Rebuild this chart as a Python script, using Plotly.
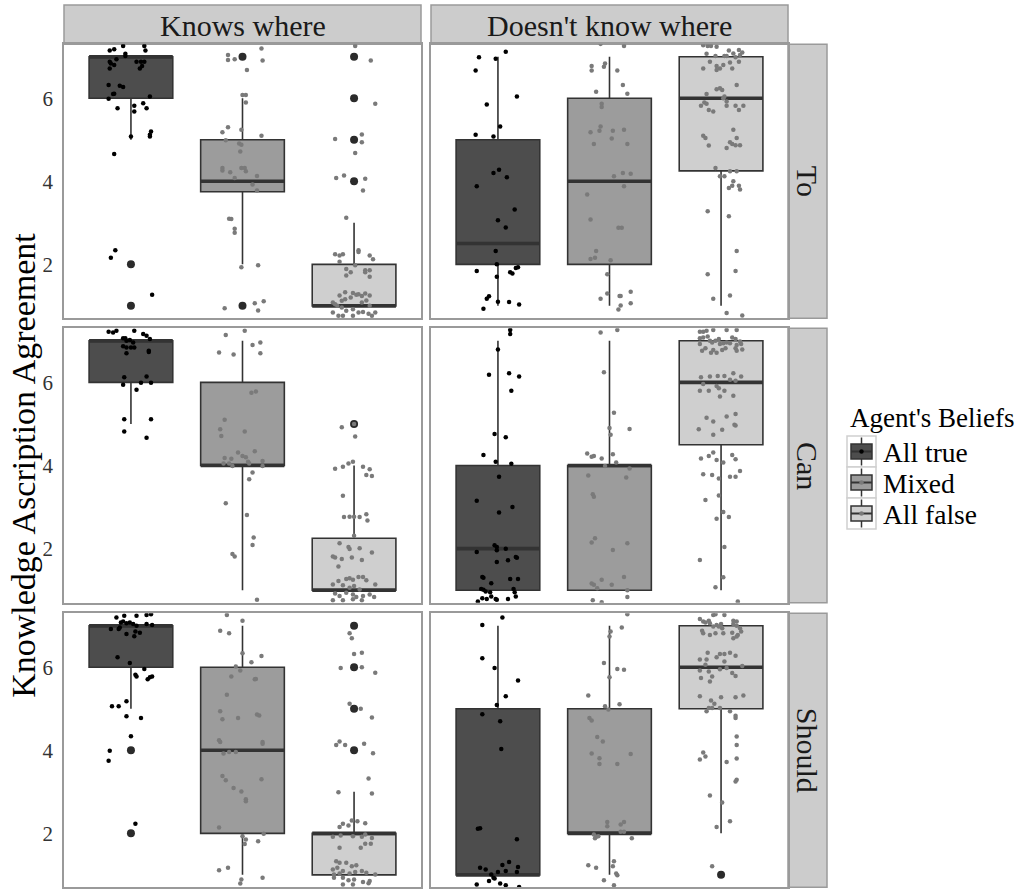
import plotly.graph_objects as go

# ---------------- data ----------------
ROWS = ["To", "Can", "Should"]
COLS = ["Knows where", "Doesn't know where"]
GROUPS = ["All true", "Mixed", "All false"]
LEGEND_TITLE = "Agent's Beliefs"
Y_TITLE = "Knowledge Ascription Agreement"
POSITIONS = [1, 2, 3]
Y_TICKS = [2, 4, 6]

# box statistics, panel order: To/Knows, To/Doesn't, Can/Knows, Can/Doesn't, Should/Knows, Should/Doesn't
LOWER = [[5, 2, 1], [1, 1, 1], [5, 1, 1], [1, 1, 1], [5, 1, 1], [1, 1, 2]]
Q1 = [[6, 3.75, 1], [2, 2, 4.25], [6, 4, 1], [1, 1, 4.5], [6, 2, 1], [1, 2, 5]]
MEDIAN = [[7, 4, 1], [2.5, 4, 6], [7, 4, 1], [2, 4, 6], [7, 4, 2], [1, 2, 6]]
Q3 = [[7, 5, 2], [5, 6, 7], [7, 6, 2.25], [4, 4, 7], [7, 6, 2], [5, 5, 7]]
UPPER = [[7, 6, 3], [7, 7, 7], [7, 7, 4], [7, 7, 7], [7, 7, 3], [7, 7, 7]]
OUTLIERS = [[[2, 1], [7, 1], [4, 5, 6, 7]], [[], [], []], [[], [], [5]],
            [[], [], []], [[4, 2], [], [4, 5, 6, 7]], [[], [], [1]]]

# jittered responses: (x offset from group position, jittered value)
TO_KNOWS_TRUE = [(-0.19, 7.15), (-0.15, 7.18), (-0.07, 7.26), (0.12, 7.26), (0.13, 7.15), (-0.05, 7.07), (-0.05, 7.02),
                 (-0.19, 6.88), (-0.13, 6.94), (-0.18, 6.84), (-0.15, 6.80), (0.05, 6.88), (0.09, 6.88), (0.12, 6.88),
                 (0.10, 6.78), (0.08, 6.72), (-0.19, 6.72), (-0.20, 6.32), (-0.10, 6.30), (-0.07, 6.27), (-0.15, 6.11),
                 (-0.20, 5.99), (-0.16, 6.10), (0.17, 6.04), (-0.12, 5.76), (0.03, 5.82), (0.03, 5.68), (0.11, 5.88),
                 (0.14, 5.76), (0.00, 5.08), (0.17, 5.08), (0.18, 5.20), (0.17, 5.12), (-0.15, 4.66), (-0.14, 2.34),
                 (-0.18, 2.16), (0.19, 1.27)]
TO_KNOWS_MIXED = [(-0.13, 7.04), (-0.13, 6.92), (-0.07, 6.94), (0.17, 7.20), (0.18, 6.91), (0.04, 6.68), (0.00, 6.08),
                  (0.03, 6.08), (0.03, 5.90), (-0.18, 5.18), (-0.13, 5.30), (-0.01, 5.24), (0.17, 5.10), (-0.15, 4.99),
                  (-0.03, 4.91), (-0.01, 4.88), (-0.02, 4.72), (-0.18, 4.32), (-0.18, 4.26), (-0.11, 4.22), (-0.01, 4.32),
                  (0.02, 4.32), (0.03, 4.24), (0.13, 4.13), (-0.07, 4.08), (0.09, 3.92), (0.13, 3.78), (-0.12, 3.10),
                  (-0.10, 3.09), (-0.07, 2.86), (-0.07, 2.76), (-0.01, 1.93), (0.14, 1.98), (-0.16, 0.94), (0.11, 1.06),
                  (0.19, 1.11), (0.14, 0.89)]
TO_KNOWS_FALSE = [(0.01, 7.26), (0.15, 6.91), (0.19, 5.87), (-0.17, 5.02), (0.07, 5.13), (0.07, 4.94), (0.01, 4.68),
                  (-0.16, 4.08), (-0.09, 4.14), (0.10, 4.06), (0.08, 3.78), (-0.07, 3.12), (0.04, 2.34), (0.04, 2.30),
                  (-0.17, 2.24), (-0.13, 2.21), (-0.10, 2.24), (0.14, 2.21), (0.17, 2.12), (-0.13, 2.06), (0.01, 1.98),
                  (-0.07, 1.89), (-0.03, 1.81), (0.10, 1.86), (0.14, 1.86), (0.10, 1.81), (0.14, 1.70), (-0.07, 1.73),
                  (-0.01, 1.31), (0.02, 1.27), (-0.13, 1.25), (-0.08, 1.33), (-0.19, 1.08), (-0.17, 1.04), (-0.15, 1.00),
                  (-0.11, 1.12), (-0.08, 1.16), (-0.03, 1.20), (0.04, 1.28), (0.07, 1.24), (0.10, 1.30), (0.14, 1.25),
                  (-0.11, 0.96), (-0.07, 0.88), (-0.01, 0.92), (0.07, 1.08), (0.11, 1.13), (0.14, 1.00), (-0.19, 0.84),
                  (-0.14, 0.76), (-0.10, 0.76), (-0.01, 0.76), (0.04, 0.84), (0.08, 0.85), (0.13, 0.81), (0.19, 0.84),
                  (0.16, 0.76)]
TO_DOESNT_TRUE = [(-0.17, 6.99), (-0.02, 6.95), (0.07, 7.12), (-0.20, 6.67), (0.17, 6.04), (-0.10, 5.85), (0.02, 5.32),
                  (-0.20, 5.12), (-0.04, 5.08), (-0.04, 4.20), (0.01, 4.28), (0.08, 4.10), (-0.19, 3.88), (0.15, 3.32),
                  (0.00, 3.06), (0.07, 2.89), (-0.02, 2.32), (-0.01, 2.00), (-0.19, 1.84), (0.11, 1.81), (0.13, 1.78),
                  (0.16, 1.91), (0.18, 1.93), (-0.01, 1.70), (-0.08, 1.23), (-0.10, 1.17), (0.00, 1.10), (0.10, 1.09),
                  (0.19, 1.03), (-0.13, 0.93)]
TO_DOESNT_MIXED = [(-0.08, 7.31), (0.13, 7.26), (-0.16, 6.78), (-0.16, 6.67), (-0.05, 6.76), (-0.04, 6.84), (0.07, 6.67),
                   (0.12, 6.32), (0.16, 6.11), (-0.12, 6.16), (-0.07, 5.87), (-0.07, 5.79), (-0.08, 5.32), (-0.17, 5.18),
                   (-0.09, 5.22), (0.03, 5.22), (0.13, 5.24), (0.02, 5.03), (-0.14, 4.90), (0.16, 4.90), (0.04, 4.12),
                   (0.12, 4.20), (0.19, 4.18), (0.13, 3.88), (-0.20, 3.68), (-0.17, 3.08), (0.08, 2.88), (0.11, 2.88),
                   (-0.12, 2.32), (-0.17, 2.13), (-0.13, 2.16), (0.01, 2.10), (-0.02, 1.76), (-0.02, 1.30), (0.09, 1.24),
                   (0.10, 1.24), (0.19, 1.34), (-0.08, 1.17), (0.10, 1.01), (0.08, 0.91), (0.19, 1.06)]
TO_DOESNT_FALSE = [(-0.16, 7.28), (-0.12, 7.26), (-0.09, 7.26), (-0.04, 7.24), (-0.13, 7.07), (-0.05, 7.02), (0.03, 7.02),
                   (0.11, 7.08), (0.16, 7.16), (0.19, 7.10), (0.07, 7.15), (0.13, 6.99), (0.16, 6.88), (-0.10, 6.88),
                   (-0.04, 6.78), (-0.01, 6.72), (0.02, 6.80), (0.10, 6.72), (0.08, 6.86), (-0.16, 6.72), (-0.04, 6.68),
                   (0.05, 7.02), (0.17, 7.04), (-0.04, 6.22), (-0.01, 6.24), (0.01, 6.20), (0.14, 6.32), (-0.13, 6.10),
                   (0.03, 6.04), (0.02, 6.00), (0.05, 5.92), (-0.15, 5.90), (-0.18, 5.82), (-0.13, 5.87), (-0.11, 5.72),
                   (-0.07, 5.68), (0.05, 5.82), (0.13, 5.82), (0.20, 5.82), (0.16, 5.72), (0.11, 5.24), (-0.16, 5.10),
                   (-0.14, 5.04), (-0.11, 4.86), (0.14, 5.04), (0.08, 4.94), (0.10, 4.90), (0.13, 4.87), (0.17, 4.87),
                   (0.05, 4.80), (-0.05, 4.32), (-0.01, 4.12), (0.03, 4.12), (0.08, 4.24), (0.14, 4.24), (0.07, 3.84),
                   (0.10, 3.89), (0.16, 3.89), (0.17, 3.80), (0.11, 4.00), (-0.12, 3.28), (0.07, 3.16), (0.14, 2.32),
                   (-0.12, 1.76), (0.13, 1.84), (-0.07, 1.17), (0.08, 1.25), (0.05, 0.83), (0.19, 0.77)]
CAN_KNOWS_TRUE = [(-0.20, 7.22), (-0.16, 7.20), (-0.13, 7.24), (0.03, 7.24), (0.11, 7.16), (0.14, 7.12), (0.17, 7.04),
                  (-0.07, 7.06), (-0.05, 7.06), (-0.04, 7.00), (-0.01, 7.02), (0.02, 6.96), (0.03, 6.84), (-0.07, 6.87),
                  (-0.04, 6.84), (0.00, 6.84), (-0.04, 6.70), (0.16, 6.76), (0.16, 6.73), (-0.06, 6.12), (-0.07, 5.94),
                  (0.14, 6.14), (0.09, 5.99), (0.18, 5.99), (0.05, 5.82), (-0.06, 5.11), (0.18, 5.11), (-0.06, 4.82),
                  (0.14, 4.67)]
CAN_KNOWS_MIXED = [(-0.15, 7.14), (0.02, 7.24), (0.09, 6.90), (0.16, 6.96), (0.16, 6.70), (-0.21, 6.72), (-0.08, 6.67),
                   (0.08, 5.75), (0.12, 5.78), (-0.16, 5.10), (-0.20, 4.87), (-0.19, 4.71), (0.02, 4.82), (-0.04, 4.31),
                   (0.00, 4.23), (0.03, 4.20), (0.11, 4.34), (-0.16, 4.18), (-0.10, 4.16), (-0.17, 4.05), (-0.12, 4.05),
                   (-0.09, 3.99), (0.05, 4.09), (0.06, 4.05), (0.18, 4.11), (0.18, 3.99), (0.09, 3.83), (0.06, 3.67),
                   (-0.15, 3.09), (0.04, 2.81), (-0.09, 1.87), (-0.07, 1.81), (0.10, 2.27), (0.09, 2.09), (0.13, 0.77)]
CAN_KNOWS_FALSE = [(-0.11, 4.92), (0.00, 5.00), (0.01, 4.70), (-0.17, 3.92), (-0.10, 3.97), (-0.05, 4.05), (-0.01, 4.09),
                   (0.08, 3.97), (0.14, 3.91), (0.16, 3.75), (0.11, 3.77), (-0.10, 3.27), (-0.09, 2.76), (-0.04, 2.77),
                   (0.00, 2.77), (0.05, 2.76), (0.11, 2.83), (0.12, 2.68), (0.00, 2.31), (-0.13, 2.13), (-0.05, 2.04),
                   (-0.04, 1.99), (0.05, 2.01), (0.16, 1.91), (-0.19, 1.81), (-0.17, 1.79), (-0.11, 1.75), (-0.02, 1.79),
                   (0.07, 1.73), (-0.14, 1.57), (-0.07, 1.27), (-0.04, 1.29), (-0.01, 1.25), (0.04, 1.32), (0.08, 1.32),
                   (-0.19, 1.14), (-0.14, 1.22), (-0.10, 1.12), (-0.04, 1.06), (0.00, 1.10), (0.05, 1.02), (0.11, 1.24),
                   (0.19, 1.14), (-0.17, 0.92), (-0.13, 0.86), (-0.07, 0.94), (-0.01, 0.90), (0.02, 0.84), (0.08, 0.86),
                   (0.14, 0.90), (0.18, 0.84), (-0.19, 0.76), (-0.10, 0.76), (-0.01, 0.78), (0.07, 0.76)]
CAN_DOESNT_TRUE = [(0.11, 7.26), (0.11, 7.16), (0.00, 6.79), (-0.08, 6.18), (0.10, 6.22), (0.19, 6.14), (0.12, 5.80),
                   (-0.03, 4.76), (0.07, 4.68), (-0.13, 4.25), (-0.02, 4.09), (0.12, 4.04), (0.01, 3.73), (-0.19, 3.15),
                   (0.13, 3.00), (0.01, 2.87), (-0.03, 2.08), (-0.01, 2.04), (-0.01, 1.96), (0.07, 2.00), (-0.19, 1.92),
                   (-0.01, 1.68), (0.09, 1.72), (0.16, 1.80), (0.17, 1.78), (-0.14, 1.32), (-0.13, 1.30), (0.11, 1.27),
                   (0.18, 1.27), (-0.06, 1.17), (-0.15, 1.03), (-0.13, 1.01), (-0.11, 0.97), (0.14, 1.03), (0.15, 0.95),
                   (0.16, 0.85), (-0.07, 0.95), (-0.14, 0.81), (-0.10, 0.79), (-0.06, 0.85), (-0.02, 0.79), (-0.01, 0.77),
                   (-0.18, 0.73), (0.09, 0.79)]
CAN_DOESNT_MIXED = [(-0.08, 7.20), (0.07, 7.26), (-0.05, 6.24), (0.04, 5.27), (0.00, 4.90), (0.01, 4.74), (0.18, 4.88),
                    (-0.20, 4.29), (-0.16, 4.21), (-0.14, 4.23), (-0.07, 4.17), (0.03, 4.27), (0.06, 4.07), (-0.04, 3.99),
                    (-0.19, 3.76), (0.15, 3.71), (0.18, 3.93), (-0.15, 3.31), (-0.14, 3.25), (-0.13, 2.25), (-0.16, 2.15),
                    (0.03, 1.97), (0.16, 2.13), (0.13, 1.32), (-0.07, 1.25), (-0.16, 1.16), (-0.14, 1.13), (0.02, 1.13),
                    (-0.11, 1.05), (0.16, 1.00), (0.16, 0.84), (-0.15, 0.76), (-0.07, 0.71)]
CAN_DOESNT_FALSE = [(-0.19, 7.22), (-0.16, 7.22), (-0.13, 7.24), (-0.07, 7.26), (0.05, 7.26), (0.14, 7.26), (-0.19, 7.06),
                    (-0.16, 7.08), (-0.12, 7.10), (-0.10, 7.00), (-0.08, 6.96), (-0.05, 7.00), (-0.02, 7.04), (-0.01, 6.92),
                    (0.02, 6.94), (0.05, 6.96), (0.10, 7.08), (0.13, 7.04), (0.17, 6.98), (0.18, 6.92), (-0.19, 6.92),
                    (-0.14, 6.82), (-0.09, 6.71), (-0.04, 6.71), (0.01, 6.78), (0.04, 6.82), (0.13, 6.82), (0.14, 6.76),
                    (0.19, 6.79), (-0.17, 6.76), (-0.07, 6.78), (0.08, 6.94), (0.14, 6.90), (-0.18, 6.12), (-0.10, 6.14),
                    (-0.03, 6.15), (0.03, 6.15), (0.11, 6.22), (0.18, 6.14), (0.08, 6.06), (0.13, 6.04), (-0.16, 5.96),
                    (-0.19, 5.80), (-0.11, 5.80), (-0.04, 5.91), (-0.02, 5.86), (0.03, 5.80), (-0.01, 5.66), (0.11, 5.68),
                    (-0.13, 5.15), (-0.07, 5.06), (0.05, 5.18), (0.13, 5.24), (0.12, 4.98), (0.13, 4.96), (-0.20, 4.87),
                    (-0.07, 4.74), (0.01, 4.86), (-0.18, 4.17), (-0.11, 4.23), (-0.07, 4.31), (-0.04, 4.13), (0.02, 4.07),
                    (0.10, 4.25), (0.13, 4.15), (0.17, 3.87), (-0.16, 3.79), (-0.08, 3.77), (-0.02, 3.69), (0.08, 3.73),
                    (0.13, 3.73), (-0.14, 3.17), (-0.02, 3.28), (-0.04, 2.72), (0.02, 2.88), (0.07, 2.76), (0.03, 2.04),
                    (-0.19, 1.73), (0.02, 1.31), (-0.05, 1.07), (0.15, 0.73)]
SHOULD_KNOWS_TRUE = [(-0.13, 7.20), (-0.06, 7.24), (0.05, 7.24), (0.14, 7.26), (0.18, 7.28), (-0.18, 6.92), (-0.11, 6.92),
                     (-0.09, 7.08), (-0.07, 7.10), (-0.04, 7.06), (-0.01, 7.08), (0.02, 7.04), (0.05, 7.00), (0.14, 7.04),
                     (0.19, 7.02), (-0.10, 6.96), (-0.04, 6.80), (0.03, 6.75), (0.04, 6.86), (0.08, 6.83), (-0.12, 6.24),
                     (-0.01, 6.10), (0.12, 5.96), (0.04, 5.82), (0.05, 5.78), (0.15, 5.71), (0.17, 5.76), (0.19, 5.78),
                     (-0.17, 5.06), (-0.11, 5.06), (-0.04, 5.18), (-0.04, 4.82), (0.09, 4.78), (0.00, 4.34), (-0.19, 3.99),
                     (-0.20, 3.75), (0.04, 2.23)]
SHOULD_KNOWS_MIXED = [(-0.14, 7.26), (0.00, 7.12), (-0.20, 6.88), (-0.12, 6.82), (0.00, 6.34), (0.08, 6.12), (0.17, 6.27),
                      (-0.06, 6.02), (-0.02, 5.92), (-0.10, 5.78), (0.11, 5.71), (0.12, 5.72), (-0.14, 5.34), (-0.20, 4.94),
                      (-0.18, 4.75), (-0.04, 4.78), (0.13, 4.86), (0.15, 4.84), (-0.21, 4.24), (-0.20, 4.20), (0.18, 4.20),
                      (0.18, 4.16), (-0.17, 3.92), (-0.12, 3.96), (-0.06, 3.96), (-0.18, 3.38), (-0.15, 3.28), (0.17, 3.30),
                      (-0.08, 3.09), (-0.01, 3.01), (0.03, 2.82), (0.03, 2.77), (-0.21, 2.14), (0.00, 1.93), (0.02, 1.74),
                      (0.03, 1.85), (0.19, 1.99), (0.14, 1.81), (-0.21, 1.11), (-0.13, 1.17), (-0.01, 0.89), (-0.02, 0.79),
                      (0.18, 0.93)]
SHOULD_KNOWS_FALSE = [(-0.04, 6.82), (-0.02, 6.70), (0.00, 6.32), (0.07, 6.35), (-0.12, 5.98), (0.07, 6.00), (0.19, 5.87),
                      (-0.04, 5.12), (0.06, 5.00), (0.16, 4.79), (-0.16, 4.13), (-0.13, 4.21), (-0.08, 4.13), (0.09, 4.16),
                      (0.17, 3.93), (0.13, 3.32), (-0.14, 2.99), (0.16, 2.96), (-0.02, 2.31), (0.03, 2.29), (0.10, 2.24),
                      (-0.10, 2.23), (-0.13, 2.15), (-0.05, 2.19), (-0.19, 1.92), (-0.12, 1.95), (-0.01, 1.93), (0.07, 1.92),
                      (0.10, 1.97), (0.16, 1.89), (-0.13, 1.65), (0.06, 1.65), (0.10, 1.75), (0.15, 1.75), (-0.16, 1.33),
                      (-0.13, 1.29), (-0.07, 1.29), (-0.02, 1.21), (0.02, 1.23), (-0.19, 1.13), (-0.15, 1.17), (-0.10, 1.09),
                      (-0.18, 1.01), (-0.13, 1.03), (-0.04, 1.03), (0.01, 1.07), (0.07, 1.09), (0.11, 1.05), (0.19, 1.01),
                      (-0.18, 0.93), (-0.10, 0.93), (-0.05, 0.87), (0.00, 0.89), (0.08, 0.83), (0.13, 0.80), (0.14, 0.85),
                      (-0.01, 0.77), (-0.10, 0.77)]
SHOULD_DOESNT_TRUE = [(0.04, 7.20), (-0.14, 7.02), (-0.14, 6.22), (-0.03, 5.98), (0.18, 5.68), (0.07, 5.30), (-0.01, 5.09),
                      (-0.14, 4.87), (0.02, 4.70), (0.03, 4.03), (-0.18, 2.11), (-0.16, 2.12), (0.17, 1.86), (-0.16, 1.17),
                      (-0.11, 1.13), (-0.06, 1.01), (-0.04, 0.93), (0.00, 1.07), (0.04, 1.24), (0.07, 1.09), (0.10, 1.31),
                      (0.17, 1.07), (0.18, 1.19), (-0.08, 0.85), (-0.03, 0.91), (0.02, 0.79), (-0.19, 0.77), (0.07, 0.75),
                      (0.19, 0.71)]
SHOULD_DOESNT_MIXED = [(0.16, 7.28), (0.11, 6.96), (0.01, 6.86), (0.00, 6.74), (-0.05, 6.10), (0.00, 5.76), (0.07, 5.96),
                       (0.13, 5.94), (-0.19, 5.32), (0.09, 5.11), (-0.04, 5.06), (-0.01, 4.98), (-0.18, 4.78), (-0.16, 4.72),
                       (-0.11, 4.32), (-0.06, 4.21), (-0.16, 3.92), (-0.09, 3.81), (-0.09, 3.67), (0.07, 3.67), (0.19, 3.91),
                       (-0.02, 2.27), (-0.02, 2.17), (0.10, 2.21), (0.13, 2.27), (0.10, 2.04), (0.13, 2.04), (-0.14, 1.97),
                       (-0.12, 1.92), (-0.10, 1.93), (-0.13, 1.88), (0.20, 1.88), (-0.19, 1.23), (-0.12, 1.17), (0.04, 1.33),
                       (0.03, 1.21), (0.06, 1.03), (0.07, 0.99), (-0.05, 0.87), (0.04, 0.75)]
SHOULD_DOESNT_FALSE = [(-0.19, 7.16), (-0.16, 7.10), (-0.14, 7.08), (-0.11, 7.12), (-0.07, 7.26), (-0.05, 7.28), (0.03, 7.26),
                       (-0.10, 7.06), (-0.04, 7.02), (0.00, 7.04), (-0.07, 6.98), (-0.02, 6.98), (0.01, 6.94), (0.11, 7.12),
                       (0.14, 7.10), (0.11, 7.04), (0.14, 7.00), (0.17, 6.94), (0.18, 6.86), (-0.17, 6.88), (-0.16, 6.82),
                       (-0.10, 6.78), (-0.05, 6.82), (0.02, 6.82), (0.10, 6.83), (0.15, 6.78), (0.14, 6.74), (0.11, 6.70),
                       (-0.19, 6.19), (-0.13, 6.19), (-0.12, 6.35), (-0.04, 6.24), (-0.01, 6.32), (0.03, 6.32), (0.08, 6.35),
                       (0.13, 6.28), (0.03, 6.14), (-0.14, 6.06), (-0.01, 5.95), (0.05, 5.98), (0.10, 5.86), (0.13, 5.79),
                       (0.19, 6.03), (-0.19, 5.92), (-0.11, 5.90), (-0.18, 5.74), (-0.08, 5.78), (-0.10, 5.66), (-0.19, 5.30),
                       (-0.09, 5.20), (-0.06, 5.12), (-0.11, 5.02), (-0.08, 5.02), (-0.01, 5.02), (0.00, 5.28), (0.13, 5.28),
                       (0.20, 5.32), (-0.13, 4.94), (0.08, 4.94), (0.13, 4.78), (0.13, 4.83), (0.14, 4.33), (0.14, 4.13),
                       (0.14, 3.80), (-0.16, 3.95), (-0.14, 3.85), (-0.19, 3.78), (0.05, 3.72), (0.14, 3.29), (0.13, 3.25),
                       (-0.10, 2.91), (0.01, 2.74), (0.08, 2.29), (-0.04, 2.15), (-0.08, 1.21)]

JITTER = [
    [TO_KNOWS_TRUE, TO_KNOWS_MIXED, TO_KNOWS_FALSE],
    [TO_DOESNT_TRUE, TO_DOESNT_MIXED, TO_DOESNT_FALSE],
    [CAN_KNOWS_TRUE, CAN_KNOWS_MIXED, CAN_KNOWS_FALSE],
    [CAN_DOESNT_TRUE, CAN_DOESNT_MIXED, CAN_DOESNT_FALSE],
    [SHOULD_KNOWS_TRUE, SHOULD_KNOWS_MIXED, SHOULD_KNOWS_FALSE],
    [SHOULD_DOESNT_TRUE, SHOULD_DOESNT_MIXED, SHOULD_DOESNT_FALSE],
]

# ---------------- style ----------------
W, H = 1035, 889
FONT = "Liberation Serif, Times New Roman, serif"
FILLS = ["#4d4d4d", "#9c9c9c", "#cfcfcf"]
POINT_COLORS = ["#000000", "#7a7a7a", "#7a7a7a"]
BOX_LINE = "#333333"
BORDER = "#9a9a9a"
STRIP_FILL = "#cccccc"
BOX_WIDTH = 0.75

COL_PX = [(64, 421), (431, 788)]
ROW_PX = [(44.3, 318.3), (328.3, 602.7), (613.3, 887.3)]
STRIP_TOP = 5
STRIP_RIGHT = (788, 827)
Y_TITLE_X = 24

# legend placement (pixels)
LEG_KEY_X = (847, 876)
LEG_KEY_TOP = 436
LEG_KEY_H = 31
LEG_TEXT_X = 881
LEG_TITLE_X = 848
LEG_TITLE_Y = 418


def px_x(v):
    return v / W


def px_y(v):
    return 1 - v / H


fig = go.Figure()
layout_axes = {}

for r in range(3):
    for c in range(2):
        k = r * 2 + c
        n = k + 1
        xa = "x" if n == 1 else f"x{n}"
        ya = "y" if n == 1 else f"y{n}"
        xkey = "xaxis" if n == 1 else f"xaxis{n}"
        ykey = "yaxis" if n == 1 else f"yaxis{n}"
        layout_axes[xkey] = dict(
            domain=[px_x(COL_PX[c][0]), px_x(COL_PX[c][1])], anchor=ya,
            range=[0.4, 3.6], showgrid=False, zeroline=False, showticklabels=False, ticks="",
            showline=True, mirror=True, linecolor=BORDER, linewidth=1.5, fixedrange=True,
        )
        layout_axes[ykey] = dict(
            domain=[px_y(ROW_PX[r][1]), px_y(ROW_PX[r][0])], anchor=xa,
            range=[0.7, 7.3], showgrid=False, zeroline=False, tickvals=Y_TICKS,
            showticklabels=(c == 0), ticks="", ticklabelstandoff=5,
            tickfont=dict(family=FONT, size=21, color="#333333"),
            showline=True, mirror=True, linecolor=BORDER, linewidth=1.5, fixedrange=True,
        )
        for g in range(3):
            pos = POSITIONS[g]
            fig.add_trace(go.Box(
                x=[pos], q1=[Q1[k][g]], median=[MEDIAN[k][g]], q3=[Q3[k][g]],
                lowerfence=[LOWER[k][g]], upperfence=[UPPER[k][g]],
                width=BOX_WIDTH, whiskerwidth=0, boxpoints=False,
                fillcolor=FILLS[g], line=dict(color=BOX_LINE, width=1.6),
                name=GROUPS[g], legendgroup=GROUPS[g], showlegend=False,
                xaxis=xa, yaxis=ya, hoverinfo="skip",
            ))
            # thicker median bar, as in the original
            fig.add_trace(go.Scatter(
                x=[pos - BOX_WIDTH / 2, pos + BOX_WIDTH / 2], y=[MEDIAN[k][g], MEDIAN[k][g]],
                mode="lines", line=dict(color=BOX_LINE, width=3.6),
                showlegend=False, legendgroup=GROUPS[g], xaxis=xa, yaxis=ya, hoverinfo="skip",
            ))
            outs = OUTLIERS[k][g]
            if outs:
                fig.add_trace(go.Scatter(
                    x=[pos] * len(outs), y=outs, mode="markers",
                    marker=dict(color="#2b2b2b", size=8),
                    showlegend=False, legendgroup=GROUPS[g], xaxis=xa, yaxis=ya,
                ))
            pts = JITTER[k][g]
            fig.add_trace(go.Scatter(
                x=[pos + d for d, _ in pts], y=[v for _, v in pts], mode="markers",
                marker=dict(color=POINT_COLORS[g], size=4.5),
                showlegend=False, legendgroup=GROUPS[g], xaxis=xa, yaxis=ya,
            ))

shapes = []
annotations = []
# column strips
for c, label in enumerate(COLS):
    x0, x1 = COL_PX[c]
    shapes.append(dict(type="rect", xref="paper", yref="paper",
                       x0=px_x(x0), x1=px_x(x1), y0=px_y(ROW_PX[0][0]), y1=px_y(STRIP_TOP),
                       fillcolor=STRIP_FILL, line=dict(color=BORDER, width=1.5), layer="below"))
    annotations.append(dict(xref="paper", yref="paper", x=px_x((x0 + x1) / 2),
                            y=px_y((STRIP_TOP + ROW_PX[0][0]) / 2 + 1), text=label, showarrow=False,
                            font=dict(family=FONT, size=30, color="#1a1a1a"),
                            xanchor="center", yanchor="middle"))
# row strips
for r, label in enumerate(ROWS):
    y0, y1 = ROW_PX[r]
    shapes.append(dict(type="rect", xref="paper", yref="paper",
                       x0=px_x(STRIP_RIGHT[0]), x1=px_x(STRIP_RIGHT[1]), y0=px_y(y1), y1=px_y(y0),
                       fillcolor=STRIP_FILL, line=dict(color=BORDER, width=1.5), layer="below"))
    annotations.append(dict(xref="paper", yref="paper", x=px_x(sum(STRIP_RIGHT) / 2),
                            y=px_y((y0 + y1) / 2), text=label, showarrow=False, textangle=90,
                            font=dict(family=FONT, size=30, color="#1a1a1a"),
                            xanchor="center", yanchor="middle"))

# shared y-axis title, centred on the panel stack
annotations.append(dict(xref="paper", yref="paper", x=px_x(Y_TITLE_X),
                        y=px_y((ROW_PX[0][0] + ROW_PX[2][1]) / 2), text=Y_TITLE, showarrow=False,
                        textangle=-90, xanchor="center", yanchor="middle",
                        font=dict(family=FONT, size=34, color="#000000")))

# legend ("Agent's Beliefs") drawn as keys with box glyphs
annotations.append(dict(xref="paper", yref="paper", x=px_x(LEG_TITLE_X), y=px_y(LEG_TITLE_Y),
                        text=LEGEND_TITLE, showarrow=False, xanchor="left", yanchor="middle",
                        font=dict(family=FONT, size=27, color="#000000")))
for g, label in enumerate(GROUPS):
    top = LEG_KEY_TOP + g * LEG_KEY_H
    bot = top + LEG_KEY_H
    kx0, kx1 = LEG_KEY_X
    cx = (kx0 + kx1) / 2
    cy = (top + bot) / 2
    shapes.append(dict(type="rect", xref="paper", yref="paper", x0=px_x(kx0), x1=px_x(kx1),
                       y0=px_y(bot), y1=px_y(top), fillcolor="white",
                       line=dict(color="#d0d0d0", width=1.5)))
    shapes.append(dict(type="line", xref="paper", yref="paper", x0=px_x(cx), x1=px_x(cx),
                       y0=px_y(bot - 1.5), y1=px_y(top + 1.5), line=dict(color=BOX_LINE, width=1.5)))
    shapes.append(dict(type="rect", xref="paper", yref="paper", x0=px_x(kx0 + 4), x1=px_x(kx1 - 4),
                       y0=px_y(cy + 7.5), y1=px_y(cy - 7.5), fillcolor=FILLS[g],
                       line=dict(color=BOX_LINE, width=1.5)))
    shapes.append(dict(type="line", xref="paper", yref="paper", x0=px_x(kx0 + 4), x1=px_x(kx1 - 4),
                       y0=px_y(cy), y1=px_y(cy), line=dict(color=BOX_LINE, width=2)))
    shapes.append(dict(type="circle", xref="paper", yref="paper", x0=px_x(cx - 2.2), x1=px_x(cx + 2.2),
                       y0=px_y(cy + 2.2), y1=px_y(cy - 2.2), fillcolor=POINT_COLORS[g],
                       line=dict(width=0)))
    annotations.append(dict(xref="paper", yref="paper", x=px_x(LEG_TEXT_X), y=px_y(cy + 1),
                            text=label, showarrow=False, xanchor="left", yanchor="middle",
                            font=dict(family=FONT, size=27.5, color="#000000")))

fig.update_layout(
    width=W, height=H,
    margin=dict(l=0, r=0, t=0, b=0),
    paper_bgcolor="white", plot_bgcolor="white",
    shapes=shapes, annotations=annotations,
    showlegend=False,
    font=dict(family=FONT),
    **layout_axes,
)

# remove the browser's default page margin so the figure fills the window exactly
fig.write_html("out.html", config={"displayModeBar": False},
               post_script="document.body.style.margin='0px';")
